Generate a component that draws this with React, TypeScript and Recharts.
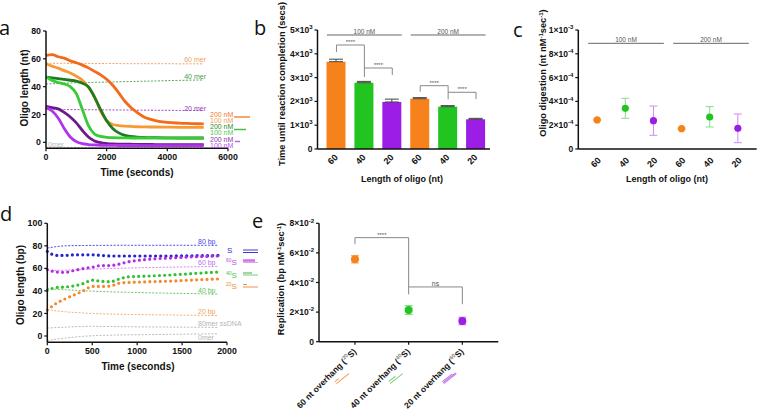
import React from "react";
import {
  Bar,
  Cell,
  ComposedChart,
  ErrorBar,
  Line,
  ReferenceLine,
  Scatter,
  XAxis,
  YAxis
} from "recharts";

const W = 758;
const H = 414;
const FONT = "'Liberation Sans', Arial, Helvetica, sans-serif";

const ORANGE = "#f7821b";
const GREEN = "#22c41f";
const PURPLE = "#9b1de6";

// ---- a: digestion curves
const aTime = [0, 200, 400, 600, 800, 1000, 1200, 1400, 1600, 1800, 2000, 2200, 2400, 2600, 2800, 3000, 3200, 3400, 3600, 4000, 4400, 4800, 5200];
const aOrange200 = [62.5, 63, 61.5, 60.5, 58.5, 57.2, 55.5, 53.5, 51, 48.5, 45.3, 41, 35.5, 29.5, 25, 21.5, 18.6, 16.8, 15.6, 14.3, 13.8, 13.5, 13.2];
const aOrange100 = [56.5, 54.8, 53.3, 51.5, 49.8, 47.5, 44.5, 39.5, 32.5, 22.5, 15.5, 12.8, 12, 11.6, 11.4, 11.2, 11.1, 11, 11, 10.9, 10.8, 10.8, 10.7];
const aGreen200 = [46.8, 46.3, 45.8, 45.2, 44.6, 44, 42.5, 39.8, 32.5, 23.5, 15.5, 10, 6.8, 5, 4.2, 3.8, 3.5, 3.4, 3.3, 3.2, 3.1, 3.1, 3.1];
const aGreen100 = [47, 44.5, 43, 42, 40, 35, 23.5, 12, 6, 4.2, 3.6, 3.3, 3.2, 3.2, 3.1, 3.1, 3.1, 3.1, 3, 3, 3, 3, 3];
const aPurple200 = [25.8, 25, 24, 21.5, 18.2, 14, 8.5, 3.8, 1, -0.3, -0.9, -1.2, -1.3, -1.4, -1.4, -1.5, -1.5, -1.5, -1.6, -1.6, -1.7, -1.7, -1.7];
const aPurple100 = [25, 22.5, 17.5, 10, 3.8, 0.5, -1, -1.6, -1.9, -2.1, -2.2, -2.2, -2.3, -2.3, -2.3, -2.3, -2.4, -2.4, -2.4, -2.4, -2.4, -2.4, -2.4];
const a60mer = [56.9, 56.8, 56.8, 56.8, 56.7, 56.7, 56.7, 56.7, 56.6, 56.6, 56.6, 56.6, 56.6, 56.5, 56.5, 56.5, 56.5, 56.5, 56.5, 56.5, 56.4, 56.4, 56.4];
const a40mer = [41.9, 42.1, 42.3, 42.5, 42.6, 42.8, 42.9, 43, 43.1, 43.2, 43.3, 43.4, 43.5, 43.6, 43.7, 43.8, 43.9, 44, 44.1, 44.3, 44.5, 44.7, 44.8];
const a20mer = [23.7, 23.7, 23.6, 23.6, 23.5, 23.5, 23.5, 23.4, 23.4, 23.3, 23.3, 23.3, 23.2, 23.2, 23.2, 23.1, 23.1, 23.1, 23, 23, 22.9, 22.9, 22.8];
const a0mer = [-3.6, -3.6, -3.6, -3.6, -3.6, -3.6, -3.6, -3.6, -3.6, -3.6, -3.6, -3.6, -3.6, -3.6, -3.6, -3.6, -3.6, -3.6, -3.6, -3.6, -3.6, -3.6, -3.6];

// ---- b: time until completion
const bX = [0, 1, 2, 3, 4, 5];
const bLabels = ["60", "40", "20", "60", "40", "20"];
const bTimeDone = [3668, 2786, 1975, 2113, 1778, 1248];
const bErr = [105, 55, 120, 45, 45, 40];
const bColors = [ORANGE, GREEN, PURPLE, ORANGE, GREEN, PURPLE];

// ---- c: digestion rate
const cX = [0, 1, 2, 3, 4, 5];
const cLabels = ["60", "40", "20", "60", "40", "20"];
const cRate = [2.44e-4, 3.42e-4, 2.38e-4, 1.71e-4, 2.69e-4, 1.74e-4];
const cErrLow = [0.05e-4, 0.84e-4, 1.23e-4, 0.05e-4, 0.84e-4, 1.21e-4];
const cErrHigh = [0.05e-4, 0.84e-4, 1.23e-4, 0.05e-4, 0.87e-4, 1.2e-4];
const cGroup = ["o", "g", "p", "o", "g", "p"];

// ---- d: replication curves
const dTime = [0, 100, 200, 300, 400, 500, 600, 700, 800, 900, 1000, 1200, 1400, 1600, 1800, 1900];
const dS = [75, 71.5, 71.5, 72, 72, 72, 71.5, 71, 71, 71, 71, 71, 71, 71.2, 71.3, 71.5];
const d60S = [59, 56.8, 56.5, 58.2, 59.8, 61, 62.5, 62.5, 63.8, 65.8, 67, 68.5, 69.3, 70.2, 70.7, 71];
const d40S = [40.5, 43, 43.5, 44.5, 46.5, 49.5, 48.5, 48.2, 50.5, 52.5, 52.8, 53.5, 54.3, 55.3, 56.3, 56.8];
const d20S = [23, 29, 33, 36.5, 40, 44, 44, 44.3, 46.8, 47.5, 47.8, 48.3, 48.8, 49.6, 50.3, 50.6];
const d80bp = [78, 79.3, 80, 80.2, 80.3, 80.4, 80.4, 80.5, 80.5, 80.5, 80.5, 80.5, 80.5, 80.5, 80.5, 80.5];
const d60bp = [58, 58.2, 58.4, 58.7, 59, 59.3, 59.6, 59.9, 60.1, 60.3, 60.5, 60.8, 61.1, 61.4, 61.7, 61.8];
const d40bp = [42, 41.4, 41, 40.6, 40.2, 39.8, 39.5, 39.2, 39, 38.8, 38.6, 38.2, 37.9, 37.6, 37.3, 37.2];
const d20bp = [23.5, 22.3, 21.5, 20.9, 20.4, 20, 19.7, 19.5, 19.3, 19.1, 19, 18.8, 18.6, 18.4, 18.2, 18.1];
const dSsDNA = [7, 7.5, 7.8, 8.2, 8.5, 8.6, 8.5, 8.4, 8.3, 8.2, 8.1, 8, 7.9, 7.8, 7.7, 7.6];
const d0mer = [-4, -2.8, -1.9, -1, -0.3, 0.2, 0.5, 0.7, 0.9, 1, 1.1, 1.3, 1.5, 1.7, 1.9, 2];

// ---- e: replication rate
const eX = [0, 1, 2];
const eLabels = ["60 nt overhang (", "40 nt overhang (", "20 nt overhang ("];
const eSup = ["20", "40", "60"];
const eRate = [0.0557, 0.0214, 0.014];
const eErr = [0.0025, 0.003, 0.0025];
const eColors = [ORANGE, GREEN, PURPLE];
const eIconColors = ["#f29a5a", "#7fd07f", "#c070e8"];

const aData = aTime.map((t, i) => ({
  t,
  o200: aOrange200[i],
  o100: aOrange100[i],
  g200: aGreen200[i],
  g100: aGreen100[i],
  p200: aPurple200[i],
  p100: aPurple100[i],
  m60: a60mer[i],
  m40: a40mer[i],
  m20: a20mer[i],
  m0: a0mer[i]
}));

const bData = bX.map((x, i) => ({ x, v: bTimeDone[i], err: [0, bErr[i]] }));

const cData = cX.map((x, i) => ({ x, v: cRate[i], err: [cErrLow[i], cErrHigh[i]], g: cGroup[i] }));

const dData = dTime.map((t, i) => ({
  t,
  s: dS[i],
  s60: d60S[i],
  s40: d40S[i],
  s20: d20S[i],
  bp80: d80bp[i],
  bp60: d60bp[i],
  bp40: d40bp[i],
  bp20: d20bp[i],
  ss: dSsDNA[i],
  zero: d0mer[i]
}));

const eData = eX.map((x, i) => ({ x, v: eRate[i], err: eErr[i] }));

// axes get real room; the margins are set so the plot area lands where it should
const YW = 30;
const XH = 30;
const frame = (l: number, t: number, r: number, b: number) => ({
  left: l - YW,
  top: t,
  right: W - r,
  bottom: H - b - XH
});

const axisLine = { stroke: "#111", strokeWidth: 1.5 };
const tickLine = { stroke: "#111", strokeWidth: 1.2 };
const tickFont = { fontSize: 8.8, fontWeight: "bold", fill: "#111", fontFamily: FONT };

function SciTick(props: any) {
  const { x, y, payload } = props;
  const v = payload.value;
  const common = { x, y, dy: 3, textAnchor: "end" as const, fontSize: 8.5, fontWeight: "bold", fill: "#111", fontFamily: FONT };
  if (v === 0) return <text {...common}>0</text>;
  const e = Math.floor(Math.log10(Math.abs(v)) + 1e-9);
  const m = Math.round(v / Math.pow(10, e));
  return (
    <text {...common}>
      {m}×10
      <tspan dy={-3.8} fontSize={6}>{String(e)}</tspan>
    </text>
  );
}

// rotated tick; the axis is given tickSize 0 / tickMargin 0, so y is the axis line
function makeRotTick(labels: string[], dx: number, dy: number) {
  return (props: any) => {
    const { x, y, payload } = props;
    const px = x + dx;
    const py = y + dy;
    return (
      <text
        x={px}
        y={py}
        transform={`rotate(-45 ${px} ${py})`}
        textAnchor="end"
        fontSize={9}
        fontWeight="bold"
        fill="#111"
        fontFamily={FONT}
      >
        {labels[payload.value]}
      </text>
    );
  };
}

function ETick(props: any) {
  const { x, y, payload } = props;
  const i = payload.value;
  const px = x + 2;
  const py = y + 7.5;
  const col = eIconColors[i];
  const cx = x - 13;
  const cy = y + 33;
  const top = [0.3, 0.55, 0.8][i];
  return (
    <g>
      <text
        x={px}
        y={py}
        transform={`rotate(-45 ${px} ${py})`}
        textAnchor="end"
        fontSize={8.5}
        fontWeight="bold"
        fill="#111"
        fontFamily={FONT}
      >
        {eLabels[i]}
        <tspan dy={-3.5} fontSize={5.5} fill="#888">{eSup[i]}</tspan>
        <tspan dy={3.5}>S)</tspan>
      </text>
      <g transform={`rotate(-38 ${cx} ${cy})`}>
        <line x1={cx - 8} y1={cy + 1.2} x2={cx + 8} y2={cy + 1.2} stroke={col} strokeWidth={1} />
        <line x1={cx - 8} y1={cy - 1.2} x2={cx - 8 + 16 * top} y2={cy - 1.2} stroke={col} strokeWidth={1} />
        {i === 2 ? <line x1={cx - 8} y1={cy} x2={cx + 8} y2={cy} stroke={col} strokeWidth={1} /> : null}
      </g>
    </g>
  );
}

const bracketLabel = (text: string, size = 6) => ({
  value: text,
  position: "top" as const,
  offset: 1,
  fontSize: size,
  fill: "#555",
  fontFamily: FONT
});

function PanelA() {
  return (
    <ComposedChart width={W} height={H} data={aData} margin={frame(46, 31, 228, 148.3)}>
      <XAxis
        dataKey="t"
        type="number"
        domain={[0, 6000]}
        ticks={[0, 2000, 4000, 6000]}
        height={XH}
        axisLine={axisLine}
        tickLine={tickLine}
        tickSize={3}
        tick={tickFont}
        interval={0}
      />
      <YAxis
        type="number"
        domain={[-4.3, 80]}
        ticks={[0, 20, 40, 60, 80]}
        width={YW}
        axisLine={axisLine}
        tickLine={tickLine}
        tickSize={3}
        tick={tickFont}
        interval={0}
      />
      <Line dataKey="m60" stroke="#f2a263" strokeWidth={1} strokeDasharray="2 1.5" dot={false} isAnimationActive={false} />
      <Line dataKey="m40" stroke="#55aa55" strokeWidth={1} strokeDasharray="2 1.5" dot={false} isAnimationActive={false} />
      <Line dataKey="m20" stroke="#a54bc8" strokeWidth={1} strokeDasharray="2 1.5" dot={false} isAnimationActive={false} />
      <Line dataKey="m0" stroke="#bbbbbb" strokeWidth={1} strokeDasharray="2 1.5" dot={false} isAnimationActive={false} />
      <Line type="monotone" dataKey="o200" stroke="#f26a1a" strokeWidth={2.8} dot={false} isAnimationActive={false} />
      <Line type="monotone" dataKey="o100" stroke="#f89a34" strokeWidth={2.8} dot={false} isAnimationActive={false} />
      <Line type="monotone" dataKey="g200" stroke="#1f7d1f" strokeWidth={2.8} dot={false} isAnimationActive={false} />
      <Line type="monotone" dataKey="g100" stroke="#35cc35" strokeWidth={2.8} dot={false} isAnimationActive={false} />
      <Line type="monotone" dataKey="p200" stroke="#6c1a8c" strokeWidth={2.8} dot={false} isAnimationActive={false} />
      <Line type="monotone" dataKey="p100" stroke="#b233ee" strokeWidth={2.8} dot={false} isAnimationActive={false} />
    </ComposedChart>
  );
}

function PanelB() {
  // category axis for the bars, a hidden numeric twin (same range) for brackets
  const seg = (x1: number, y1: number, x2: number, y2: number) => [
    { x: x1, y: y1 },
    { x: x2, y: y2 }
  ];
  const br = { stroke: "#888", strokeWidth: 1, xAxisId: "n" };
  const pad = { left: 5, right: 0 };
  return (
    <ComposedChart width={W} height={H} data={bData} margin={frame(317.5, 30, 490, 149)}>
      <XAxis
        dataKey="x"
        type="category"
        padding={pad}
        height={XH}
        axisLine={axisLine}
        tickLine={false}
        tickSize={0}
        tickMargin={0}
        tick={makeRotTick(bLabels, 2, 9)}
        interval={0}
      />
      <XAxis xAxisId="n" dataKey="x" type="number" domain={[-0.5, 5.5]} padding={pad} hide />
      <YAxis
        type="number"
        domain={[0, 5000]}
        ticks={[0, 1000, 2000, 3000, 4000, 5000]}
        width={YW}
        axisLine={axisLine}
        tickLine={tickLine}
        tickSize={3}
        tick={<SciTick />}
        interval={0}
      />
      <Bar dataKey="v" barSize={19} isAnimationActive={false}>
        {bData.map((d, i) => (
          <Cell key={i} fill={bColors[i]} />
        ))}
        <ErrorBar dataKey="err" width={7} stroke="#444" strokeWidth={1} />
      </Bar>
      <ReferenceLine segment={seg(-0.34, 4790, 2.34, 4790)} {...br} stroke="#666" label={bracketLabel("100 nM", 6.5)} />
      <ReferenceLine segment={seg(2.66, 4790, 5.34, 4790)} {...br} stroke="#666" label={bracketLabel("200 nM", 6.5)} />
      <ReferenceLine segment={seg(0, 4076, 0, 4370)} {...br} />
      <ReferenceLine segment={seg(0, 4370, 1, 4370)} {...br} label={bracketLabel("****")} />
      <ReferenceLine segment={seg(1, 4370, 1, 3025)} {...br} />
      <ReferenceLine segment={seg(1, 3404, 2, 3404)} {...br} label={bracketLabel("****")} />
      <ReferenceLine segment={seg(2, 3404, 2, 3110)} {...br} />
      <ReferenceLine segment={seg(3, 2408, 3, 2660)} {...br} />
      <ReferenceLine segment={seg(3, 2660, 4, 2660)} {...br} label={bracketLabel("****")} />
      <ReferenceLine segment={seg(4, 2660, 4, 2088)} {...br} />
      <ReferenceLine segment={seg(4, 2383, 5, 2383)} {...br} label={bracketLabel("****")} />
      <ReferenceLine segment={seg(5, 2383, 5, 2100)} {...br} />
    </ComposedChart>
  );
}

function PanelC() {
  const groups: [string, string, string][] = [
    ["o", ORANGE, "#f7b27a"],
    ["g", GREEN, "#86dc86"],
    ["p", PURPLE, "#d08cf0"]
  ];
  return (
    <ComposedChart width={W} height={H} margin={frame(578.3, 30, 756.7, 149)}>
      <XAxis
        dataKey="x"
        type="number"
        domain={[-0.67, 5.67]}
        ticks={cX}
        height={XH}
        axisLine={axisLine}
        tickLine={false}
        tickSize={0}
        tickMargin={0}
        tick={makeRotTick(cLabels, 4.5, 12)}
        interval={0}
      />
      <YAxis
        dataKey="v"
        type="number"
        domain={[0, 0.001]}
        ticks={[0, 0.0002, 0.0004, 0.0006, 0.0008, 0.001]}
        width={YW}
        axisLine={axisLine}
        tickLine={tickLine}
        tickSize={3}
        tick={<SciTick />}
        interval={0}
      />
      {groups.map(([g, col, light]) => (
        <Scatter
          key={g}
          data={cData.filter((d) => d.g === g)}
          dataKey="v"
          isAnimationActive={false}
          shape={(p: any) => <circle cx={p.cx} cy={p.cy} r={3.6} fill={col} />}
        >
          <ErrorBar dataKey="err" direction="y" width={4} stroke={light} strokeWidth={1} />
        </Scatter>
      ))}
      <ReferenceLine segment={[{ x: -0.32, y: 8.88e-4 }, { x: 2.37, y: 8.88e-4 }]} stroke="#666" strokeWidth={1} label={bracketLabel("100 nM", 6.5)} />
      <ReferenceLine segment={[{ x: 2.7, y: 8.88e-4 }, { x: 5.39, y: 8.88e-4 }]} stroke="#666" strokeWidth={1} label={bracketLabel("200 nM", 6.5)} />
    </ComposedChart>
  );
}

function PanelD() {
  const dotted = { type: "monotone" as const, strokeWidth: 3.2, strokeDasharray: "0 5.2", strokeLinecap: "round" as const, dot: false, isAnimationActive: false };
  const dashed = { type: "monotone" as const, strokeWidth: 1, strokeDasharray: "2 1.5", dot: false, isAnimationActive: false };
  return (
    <ComposedChart width={W} height={H} data={dData} margin={frame(47.3, 223.3, 227, 342.3)}>
      <XAxis
        dataKey="t"
        type="number"
        domain={[0, 2000]}
        ticks={[0, 500, 1000, 1500, 2000]}
        height={XH}
        axisLine={axisLine}
        tickLine={tickLine}
        tickSize={3}
        tick={tickFont}
        interval={0}
      />
      <YAxis
        type="number"
        domain={[-5.6, 100]}
        ticks={[0, 20, 40, 60, 80, 100]}
        width={YW}
        axisLine={axisLine}
        tickLine={tickLine}
        tickSize={3}
        tick={tickFont}
        interval={0}
      />
      <Line dataKey="bp80" stroke="#4b4be8" {...dashed} />
      <Line dataKey="bp60" stroke="#d48af0" {...dashed} />
      <Line dataKey="bp40" stroke="#6ac86a" {...dashed} />
      <Line dataKey="bp20" stroke="#f5b073" {...dashed} />
      <Line dataKey="ss" stroke="#bbbbbb" {...dashed} />
      <Line dataKey="zero" stroke="#bbbbbb" {...dashed} />
      <Line dataKey="s" stroke="#2424d0" {...dotted} />
      <Line dataKey="s60" stroke="#b22ee2" {...dotted} />
      <Line dataKey="s40" stroke="#33c033" {...dotted} />
      <Line dataKey="s20" stroke="#f5892b" {...dotted} />
    </ComposedChart>
  );
}

function PanelE() {
  const br = { stroke: "#888", strokeWidth: 1 };
  const light = ["#f7b27a", "#86dc86", "#d08cf0"];
  return (
    <ComposedChart width={W} height={H} margin={frame(319, 223.3, 498.3, 341.7)}>
      <XAxis
        dataKey="x"
        type="number"
        domain={[-0.67, 2.67]}
        ticks={eX}
        height={XH}
        axisLine={axisLine}
        tickLine={tickLine}
        tickSize={3}
        tickMargin={0}
        tick={<ETick />}
        interval={0}
      />
      <YAxis
        dataKey="v"
        type="number"
        domain={[0, 0.08]}
        ticks={[0, 0.02, 0.04, 0.06, 0.08]}
        width={YW}
        axisLine={axisLine}
        tickLine={tickLine}
        tickSize={3}
        tick={<SciTick />}
        interval={0}
      />
      {eData.map((d, i) => (
        <Scatter
          key={i}
          data={[d]}
          dataKey="v"
          isAnimationActive={false}
          shape={(p: any) => <circle cx={p.cx} cy={p.cy} r={4} fill={eColors[i]} />}
        >
          <ErrorBar dataKey="err" direction="y" width={4} stroke={light[i]} strokeWidth={1.2} />
        </Scatter>
      ))}
      <ReferenceLine segment={[{ x: 0, y: 0.0659 }, { x: 0, y: 0.0703 }]} {...br} />
      <ReferenceLine segment={[{ x: 0, y: 0.0703 }, { x: 1, y: 0.0703 }]} {...br} label={bracketLabel("****")} />
      <ReferenceLine segment={[{ x: 1, y: 0.0703 }, { x: 1, y: 0.032 }]} {...br} />
      <ReferenceLine segment={[{ x: 1, y: 0.037 }, { x: 2, y: 0.037 }]} {...br} label={bracketLabel("ns", 7)} />
      <ReferenceLine segment={[{ x: 2, y: 0.037 }, { x: 2, y: 0.0253 }]} {...br} />
    </ComposedChart>
  );
}

function Overlay() {
  const bold = { fontFamily: FONT, fontWeight: "bold" as const, fill: "#111" };
  const small = { fontFamily: FONT, fontSize: 7 };
  const letter = { fontFamily: "'Open Sans', 'DejaVu Sans', sans-serif", fontSize: 20, fill: "#111" };
  return (
    <svg width={W} height={H} style={{ position: "absolute", left: 0, top: 0 }}>
      <text x={-1} y={35} {...letter}>a</text>
      <text x={254} y={35} {...letter}>b</text>
      <text x={513} y={37} {...letter}>c</text>
      <text x={0} y={221} {...letter}>d</text>
      <text x={252} y={228} {...letter}>e</text>

      {/* axis titles */}
      <text x={137} y={176} textAnchor="middle" fontSize={10} {...bold}>Time (seconds)</text>
      <text transform="translate(28 88) rotate(-90)" textAnchor="middle" fontSize={10} {...bold}>Oligo length (nt)</text>
      <text x={402} y={182} textAnchor="middle" fontSize={9} {...bold}>Length of oligo (nt)</text>
      <text transform="translate(285 84) rotate(-90)" textAnchor="middle" fontSize={9.3} {...bold}>Time until reaction completion (secs)</text>
      <text x={667} y={182} textAnchor="middle" fontSize={9} {...bold}>Length of oligo (nt)</text>
      <text transform="translate(546 73) rotate(-90)" textAnchor="middle" fontSize={9.3} {...bold}>
        Oligo digestion (nt nM<tspan dy={-3.5} fontSize={6}>-1</tspan><tspan dy={3.5}>sec</tspan><tspan dy={-3.5} fontSize={6}>-1</tspan><tspan dy={3.5}>)</tspan>
      </text>
      <text x={138} y={370} textAnchor="middle" fontSize={10} {...bold}>Time (seconds)</text>
      <text transform="translate(24 285) rotate(-90)" textAnchor="middle" fontSize={10} {...bold}>Oligo length (bp)</text>
      <text transform="translate(284 279) rotate(-90)" textAnchor="middle" fontSize={9.3} {...bold}>
        Replication (bp nM<tspan dy={-3.5} fontSize={6}>-1</tspan><tspan dy={3.5}>sec</tspan><tspan dy={-3.5} fontSize={6}>-1</tspan><tspan dy={3.5}>)</tspan>
      </text>

      {/* panel a annotations */}
      <text x={206} y={62} textAnchor="end" fill="#f0a060" {...small}>60 mer</text>
      <text x={206} y={79} textAnchor="end" fill="#4a9e4a" {...small}>40 mer</text>
      <text x={206} y={111} textAnchor="end" fill="#9a40c0" {...small}>20 mer</text>
      <text x={48} y={147} fill="#bbbbbb" {...small}>0mer</text>
      <text x={210} y={116.5} fill="#f07a30" {...small}>200 nM</text>
      <text x={210} y={122.8} fill="#f7a050" {...small}>100 nM</text>
      <text x={210} y={129} fill="#2a8a2a" {...small}>200 nM</text>
      <text x={210} y={135} fill="#4ccc4c" {...small}>100 nM</text>
      <text x={210} y={141.5} fill="#8a3aa8" {...small}>200 nM</text>
      <text x={210} y={147.5} fill="#b850ee" {...small}>100 nM</text>
      <line x1={234} y1={117} x2={250} y2={117} stroke="#f58a3a" strokeWidth={1.5} />
      <line x1={234} y1={129.5} x2={246} y2={129.5} stroke="#44c044" strokeWidth={1.5} />
      <line x1={235} y1={141.5} x2={240} y2={141.5} stroke="#c060ee" strokeWidth={1.5} />

      {/* panel d annotations */}
      <text x={198} y={244} fill="#4848e0" {...small}>80 bp</text>
      <text x={198} y={265} fill="#c070e8" {...small}>60 bp</text>
      <text x={198} y={293} fill="#5cc05c" {...small}>40 bp</text>
      <text x={198} y={314} fill="#f3a060" {...small}>20 bp</text>
      <text x={198} y={326} fill="#b5b5b5" {...small}>80mer ssDNA</text>
      <text x={198} y={340} fill="#b5b5b5" {...small}>0mer</text>

      <text x={227} y={253} fill="#3434d8" fontFamily={FONT} fontSize={8}>S</text>
      <text x={226} y={265} fill="#c050e8" fontFamily={FONT} fontSize={8}><tspan fontSize={5} dy={-3}>60</tspan><tspan dy={3}>S</tspan></text>
      <text x={226} y={278} fill="#4cc04c" fontFamily={FONT} fontSize={8}><tspan fontSize={5} dy={-3}>40</tspan><tspan dy={3}>S</tspan></text>
      <text x={226} y={289} fill="#f08a3a" fontFamily={FONT} fontSize={8}><tspan fontSize={5} dy={-3}>20</tspan><tspan dy={3}>S</tspan></text>
      <line x1={243} y1={250} x2={258} y2={250} stroke="#3a3ae0" strokeWidth={1} />
      <line x1={243} y1={252.5} x2={258} y2={252.5} stroke="#3a3ae0" strokeWidth={1} />
      <line x1={243} y1={260.5} x2={255} y2={260.5} stroke="#d070ec" strokeWidth={2.5} />
      <line x1={243} y1={262.5} x2={258} y2={262.5} stroke="#e0a0f4" strokeWidth={1} />
      <line x1={243} y1={273} x2={252} y2={273} stroke="#7ccc7c" strokeWidth={1.5} />
      <line x1={243} y1={275} x2={258} y2={275} stroke="#7ccc7c" strokeWidth={1} />
      <line x1={243} y1={284.5} x2={247} y2={284.5} stroke="#f0904a" strokeWidth={1} />
      <line x1={243} y1={287} x2={258} y2={287} stroke="#f0904a" strokeWidth={1} />
    </svg>
  );
}

export default function App() {
  const layer = { position: "absolute" as const, left: 0, top: 0 };
  return (
    <div style={{ position: "absolute", left: 0, top: 0, width: W, height: H, background: "#fff", fontFamily: FONT, overflow: "hidden" }}>
      <div style={layer}><PanelA /></div>
      <div style={layer}><PanelB /></div>
      <div style={layer}><PanelC /></div>
      <div style={layer}><PanelD /></div>
      <div style={layer}><PanelE /></div>
      <Overlay />
    </div>
  );
}
